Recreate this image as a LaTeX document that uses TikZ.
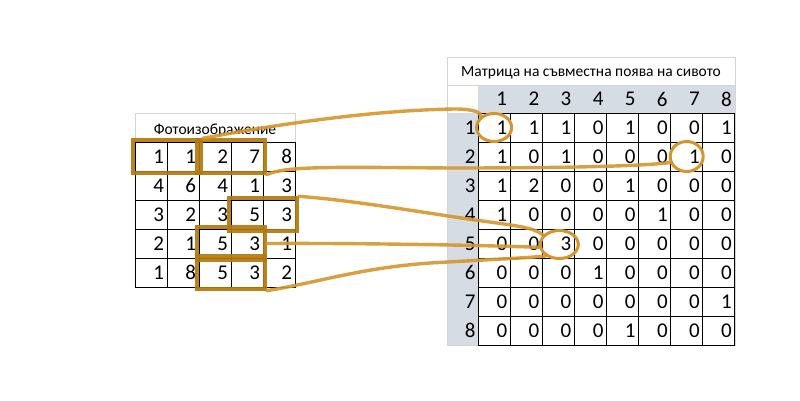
\documentclass[tikz,border=0pt]{standalone}
\usepackage{fontspec}
\setmainfont{Carlito}
\usepackage{tikz}
\usetikzlibrary{shapes,fit,calc}
\definecolor{boxgold}{HTML}{B3790C}
\definecolor{pengold}{HTML}{D6952A}
\definecolor{headgray}{HTML}{D6DCE4}
\definecolor{framegray}{HTML}{D4D4D4}
\tikzstyle{cell} = [rectangle, draw, line width=1pt, text width=26pt, align=right, inner xsep=3pt, inner ysep=0pt, minimum height=29pt, font=\fontsize{21}{23}\selectfont]
\tikzstyle{headnum} = [rectangle, text width=26pt, align=right, inner xsep=3pt, inner ysep=0pt, minimum height=28pt, font=\fontsize{21}{23}\selectfont]
\tikzstyle{caption} = [font=\fontsize{15.5}{17}\selectfont]
\tikzstyle{pair} = [rectangle, draw=boxgold, line width=3.4pt, inner sep=1.5pt, opacity=0.92]
\tikzstyle{ring} = [ellipse, draw=pengold, line width=3pt, minimum width=35pt, minimum height=28pt, inner sep=0pt]
\tikzstyle{pen} = [draw=pengold, line width=3.4pt, opacity=0.9, line cap=round]

\begin{document}
\begin{tikzpicture}[x=1pt, y=-1pt]
        \useasboundingbox (0,0) rectangle (800,400);

        % Frames and header fills
        \draw[framegray] (135,113) rectangle (295,142);
        \fill[headgray] (447,113) rectangle (478,345);
        \fill[headgray] (478,85) rectangle (735,113);
        \draw[framegray] (447,57) rectangle (735,345);
        \draw[framegray] (447,85) -- (735,85);

        % Place nodes
        \node [caption] (imgtitle) at (215,130) {Фотоизображение};
        \node [caption] (glcmtitle) at (591,73) {Матрица на съвместна поява на сивото};

        \foreach \row [count=\r] in {{1,1,2,7,8},{4,6,4,1,3},{3,2,3,5,3},{2,1,5,3,1},{1,8,5,3,2}}
            \foreach \v [count=\c] in \row
                \node [cell] (img-\r-\c) at ({119+32*\c},{127.5+29*\r}) {\v};

        \foreach \k in {1,...,8} {
            \node [headnum] (col-\k) at ({462+32.1*\k},99) {\k};
            \node [headnum] (row-\k) at (462.5,{98.5+29*\k}) {\k};
        }

        \foreach \row [count=\r] in {{1,1,1,0,1,0,0,1},{1,0,1,0,0,0,1,0},{1,2,0,0,1,0,0,0},{1,0,0,0,0,1,0,0},
                                     {0,0,3,0,0,0,0,0},{0,0,0,1,0,0,0,0},{0,0,0,0,0,0,0,1},{0,0,0,0,1,0,0,0}}
            \foreach \v [count=\c] in \row
                \node [cell, text width=26.1pt] (glcm-\r-\c) at ({462+32.1*\c},{98.5+29*\r}) {\v};

        % Highlighted pairs
        \node [pair, fit=(img-1-1)(img-1-2)] (pair1) {};
        \node [pair, fit=(img-1-3)(img-1-4)] (pair2) {};
        \node [pair, fit=(img-3-4)(img-3-5)] (pair3) {};
        \node [pair, fit=(img-4-3)(img-4-4)] (pair4) {};
        \node [pair, fit=(img-5-3)(img-5-4)] (pair5) {};

        \node [ring] (ring1) at (glcm-1-1) {};
        \node [ring, minimum width=33pt, minimum height=30pt] (ring2) at (glcm-2-7) {};
        \node [ring, minimum width=38pt] (ring3) at ($(glcm-5-3)+(1,1)$) {};

        % Draw edges
        \draw [pen] (pair1.north east) .. controls (290,122) and (380,110) .. (455,109) .. controls (475,109) and (482,113) .. (ring1.north west);
        \draw [pen] (pair2.south east) .. controls (285,166) and (330,167) .. (450,168) .. controls (600,168) and (650,165) .. (ring2.200);
        \draw [pen] (pair3.north east) .. controls (350,200) and (420,212) .. (475,220) .. controls (520,226) and (535,228) .. (ring3.150);
        \draw [pen] (pair4.east) .. controls (350,243) and (480,245) .. (ring3.188);
        \draw [pen] (pair5.south east) .. controls (320,282) and (360,268) .. (430,263) .. controls (500,259) and (525,258) .. (ring3.220);
    \end{tikzpicture}
\end{document}
